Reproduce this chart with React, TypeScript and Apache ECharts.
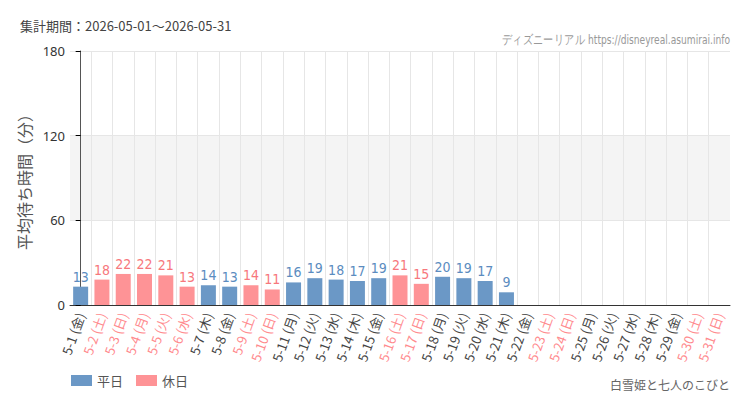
import * as echarts from 'echarts'
import React, { useEffect, useRef } from 'react'

const dates = [
  '5-1', '5-2', '5-3', '5-4', '5-5', '5-6', '5-7', '5-8', '5-9', '5-10',
  '5-11', '5-12', '5-13', '5-14', '5-15', '5-16', '5-17', '5-18', '5-19', '5-20',
  '5-21', '5-22', '5-23', '5-24', '5-25', '5-26', '5-27', '5-28', '5-29', '5-30', '5-31',
]
const weekdays = [
  '金', '土', '日', '月', '火', '水', '木', '金', '土', '日',
  '月', '火', '水', '木', '金', '土', '日', '月', '火', '水',
  '木', '金', '土', '日', '月', '火', '水', '木', '金', '土', '日',
]
const holidays = [
  false, true, true, true, true, true, false, false, true, true,
  false, false, false, false, false, true, true, false, false, false,
  false, false, true, true, false, false, false, false, false, true, true,
]
const waits: (number | null)[] = [
  13, 18, 22, 22, 21, 13, 14, 13, 14, 11,
  16, 19, 18, 17, 19, 21, 15, 20, 19, 17,
  9, null, null, null, null, null, null, null, null, null, null,
]
const yTicks = [0, 60, 120, 180]

const weekdayColor = '#6b98c6'
const holidayColor = '#fe9396'
const weekdayLabel = '#5b8cc0'
const holidayLabel = '#f7777c'

const cjk = '"Noto Sans CJK JP", "Noto Sans", sans-serif'
const narrow = '"DejaVu Sans Condensed", "Liberation Sans Narrow", sans-serif'

export default function App() {
  const chartRef = useRef(null)

  useEffect(() => {
    const chart = echarts.init(chartRef.current, null, { renderer: 'svg' })

    const categories = dates.map((d, i) => `${d} (${weekdays[i]})`)
    const weekdayData = waits.map((v, i) => (holidays[i] ? null : v))
    const holidayData = waits.map((v, i) => (holidays[i] ? v : null))

    const option = {
      animation: false,
      textStyle: { fontFamily: cjk },
      grid: { left: 70, right: 20, top: 51, bottom: 105 },
      graphic: [
        {
          type: 'text',
          left: 20,
          top: 19,
          style: { text: '集計期間：2026-05-01～2026-05-31', fill: '#444', font: `13px ${cjk}` },
        },
        {
          type: 'text',
          x: 730,
          y: 33,
          scaleX: 0.78,
          style: {
            text: 'ディズニーリアル https://disneyreal.asumirai.info',
            fill: '#999',
            font: `13px ${narrow}`,
            align: 'right',
          },
        },
        {
          type: 'text',
          right: 20,
          top: 378,
          style: { text: '白雪姫と七人のこびと', fill: '#666', font: `12px ${cjk}` },
        },
      ],
      legend: {
        left: 66,
        bottom: 18,
        itemWidth: 21,
        itemHeight: 11,
        itemGap: 13,
        icon: 'rect',
        textStyle: { color: '#555', fontSize: 13, fontFamily: cjk },
        data: ['平日', '休日'],
      },
      xAxis: [
        {
          type: 'category',
          data: categories,
          axisLine: { lineStyle: { color: '#333' } },
          axisTick: { alignWithLabel: true, length: 4, lineStyle: { color: '#000' } },
          splitLine: { show: false },
          axisLabel: {
            interval: 0,
            rotate: 70,
            margin: 8,
            fontSize: 13,
            fontFamily: cjk,
            color: (_: string, i: number) => (holidays[i] ? '#ff8a8e' : '#444'),
          },
        },
        {
          // hidden helper axis: vertical grid lines at the category centres
          type: 'value',
          position: 'bottom',
          min: -0.5,
          max: dates.length - 0.5,
          interval: 1,
          axisLine: { show: false },
          axisTick: { show: false },
          axisLabel: { show: false },
          splitLine: {
            show: true,
            showMinLine: false,
            showMaxLine: false,
            lineStyle: { color: '#e6e6e6' },
          },
        },
      ],
      yAxis: {
        type: 'value',
        min: yTicks[0],
        max: yTicks[yTicks.length - 1],
        interval: 60,
        name: '平均待ち時間（分）',
        nameLocation: 'middle',
        nameGap: 36,
        nameTextStyle: { color: '#555', fontSize: 16, fontFamily: cjk },
        axisLine: { show: true, lineStyle: { color: '#555' } },
        axisTick: { show: true, length: 5, lineStyle: { color: '#000' } },
        axisLabel: { color: '#333', fontSize: 13, margin: 5, fontFamily: '"Noto Sans", sans-serif' },
        splitLine: { show: true, lineStyle: { color: '#e6e6e6' } },
        splitArea: { show: true, areaStyle: { color: ['#ffffff', '#f4f4f4'] } },
      },
      series: [
        {
          name: '平日',
          type: 'bar',
          stack: 'wait',
          barWidth: 15,
          data: weekdayData,
          itemStyle: { color: weekdayColor },
          label: {
            show: true,
            position: 'top',
            distance: 3,
            color: weekdayLabel,
            fontSize: 14,
            fontFamily: narrow,
          },
        },
        {
          name: '休日',
          type: 'bar',
          stack: 'wait',
          barWidth: 15,
          data: holidayData,
          itemStyle: { color: holidayColor },
          label: {
            show: true,
            position: 'top',
            distance: 3,
            color: holidayLabel,
            fontSize: 14,
            fontFamily: narrow,
          },
        },
      ],
    }

    chart.setOption(option)

    return () => {
      chart.dispose()
    }
  }, [])

  return <div ref={chartRef} style={{ width: '750px', height: '410px', margin: '-8px' }} />
}
